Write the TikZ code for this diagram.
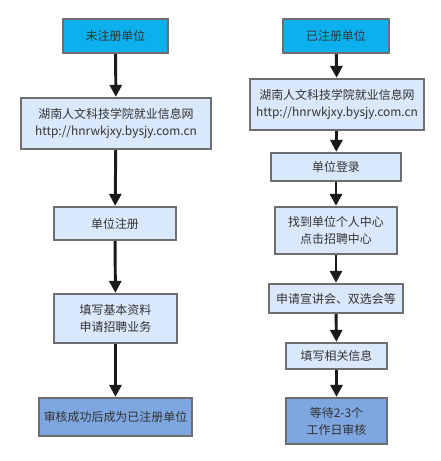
\documentclass[tikz,border=0pt]{standalone}
\usepackage{fontspec}
\usepackage{tikz}
\usetikzlibrary{arrows.meta, positioning}
\newfontfamily\cjk{Noto Sans CJK SC}
\definecolor{cCyan}{HTML}{0BB0EC}
\definecolor{cPale}{HTML}{DAE8FC}
\definecolor{cBlue}{HTML}{7EA6E0}
\definecolor{cEdge}{HTML}{6E6E6E}
\definecolor{cText}{HTML}{333333}
\definecolor{cArrow}{HTML}{1A1A1A}

\begin{document}
\begin{tikzpicture}[
    x=0.025cm, y=-0.025cm,
    box/.style={draw=cEdge, line width=0.85pt, inner sep=0pt, align=center,
        text=cText, font=\cjk\fontsize{8.5}{12}\selectfont},
    startbox/.style={box, fill=cCyan},
    stepbox/.style={box, fill=cPale},
    endbox/.style={box, fill=cBlue},
    flow/.style={-{Triangle[width=0.3cm, length=0.3cm]}, draw=cArrow,
        line width=2.1pt, shorten <=0.4pt, shorten >=0.4pt},
]

% ---------- Frame ----------
\useasboundingbox (0,0) rectangle (441,461);

% ---------- Left column ----------
\node[startbox, minimum width=105*0.025cm, minimum height=34*0.025cm] (unreg) at (115.5,36) {未注册单位};
\node[stepbox, minimum width=190*0.025cm, minimum height=51*0.025cm] (siteL) at (116,123.5) {湖南人文科技学院就业信息网\\http://hnrwkjxy.bysjy.com.cn};
\node[stepbox, minimum width=122*0.025cm, minimum height=33*0.025cm] (signup) at (115,223.5) {单位注册};
\node[stepbox, minimum width=123*0.025cm, minimum height=49*0.025cm] (fillin) at (115.5,318.5) {填写基本资料\\申请招聘业务};
\node[endbox, minimum width=153*0.025cm, minimum height=38*0.025cm] (passed) at (115.5,417) {审核成功后成为已注册单位};

% ---------- Right column ----------
\node[startbox, minimum width=106*0.025cm, minimum height=34*0.025cm] (reg) at (336,36) {已注册单位};
\node[stepbox, minimum width=174*0.025cm, minimum height=51*0.025cm] (siteR) at (337,104.5) {湖南人文科技学院就业信息网\\http://hnrwkjxy.bysjy.com.cn};
\node[stepbox, minimum width=130*0.025cm, minimum height=28*0.025cm] (login) at (336,167) {单位登录};
\node[stepbox, minimum width=122*0.025cm, minimum height=47*0.025cm] (center) at (336,230.5) {找到单位个人中心\\点击招聘中心};
\node[stepbox, minimum width=134*0.025cm, minimum height=29*0.025cm] (apply) at (336,298.5) {申请宣讲会、双选会等};
\node[stepbox, minimum width=101*0.025cm, minimum height=26*0.025cm] (info) at (336.5,356) {填写相关信息};
\node[endbox, minimum width=101*0.025cm, minimum height=46*0.025cm] (wait) at (336.5,421) {等待2-3个\\工作日审核};

% ---------- Arrows ----------
\foreach \a/\b in {unreg/siteL, siteL/signup, signup/fillin, fillin/passed,
                   reg/siteR, siteR/login, login/center, center/apply, apply/info, info/wait}{
  \draw[flow] (\a) -- (\b);
}

\end{tikzpicture}
\end{document}
